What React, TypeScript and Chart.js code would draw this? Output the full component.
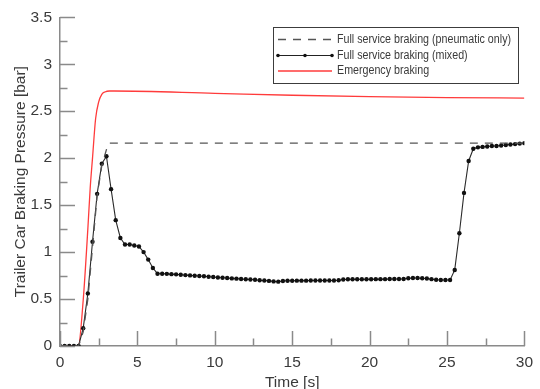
import React, { useEffect, useRef } from "react";
import { Chart, registerables } from "chart.js";

Chart.register(...registerables);

// ---- Data ----
const seriesNames = [
  "Full service braking (pneumatic only)",
  "Full service braking (mixed)",
  "Emergency braking",
];

const mixedTimes = [
  0, 0.3, 0.6, 0.9, 1.2, 1.5, 1.8, 2.1, 2.4, 2.7, 3, 3.3, 3.6, 3.9, 4.2, 4.5, 4.8, 5.1, 5.4, 5.7, 6,
  6.3, 6.6, 6.9, 7.2, 7.5, 7.8, 8.1, 8.4, 8.7, 9, 9.3, 9.6, 9.9, 10.2, 10.5, 10.8, 11.1, 11.4, 11.7, 12,
  12.3, 12.6, 12.9, 13.2, 13.5, 13.8, 14.1, 14.4, 14.7, 15, 15.3, 15.6, 15.9, 16.2, 16.5, 16.8, 17.1,
  17.4, 17.7, 18, 18.3, 18.6, 18.9, 19.2, 19.5, 19.8, 20.1, 20.4, 20.7, 21, 21.3, 21.6, 21.9, 22.2,
  22.5, 22.8, 23.1, 23.4, 23.7, 24, 24.3, 24.6, 24.9, 25.2, 25.5, 25.8, 26.1, 26.4, 26.7, 27, 27.3,
  27.6, 27.9, 28.2, 28.5, 28.8, 29.1, 29.4, 29.7, 30,
];
const mixedValues = [
  0, 0, 0, 0, 0, 0.19, 0.56, 1.11, 1.62, 1.94, 2.02, 1.67, 1.34, 1.15, 1.08, 1.08, 1.07, 1.06, 1.0, 0.92, 0.83,
  0.77, 0.77, 0.768, 0.765, 0.763, 0.758, 0.755, 0.752, 0.748, 0.745, 0.742, 0.738, 0.735, 0.73, 0.727,
  0.724, 0.72, 0.717, 0.714, 0.711, 0.708, 0.705, 0.7, 0.697, 0.693, 0.688, 0.685, 0.692, 0.695, 0.695,
  0.696, 0.696, 0.696, 0.697, 0.697, 0.697, 0.697, 0.698, 0.698, 0.7, 0.708, 0.71, 0.71, 0.71, 0.711,
  0.711, 0.711, 0.712, 0.712, 0.712, 0.713, 0.713, 0.713, 0.714, 0.722, 0.724, 0.724, 0.722, 0.718,
  0.712, 0.705, 0.703, 0.702, 0.702, 0.81, 1.2, 1.63, 1.97, 2.1, 2.115, 2.12, 2.125, 2.13, 2.13, 2.135,
  2.14, 2.145, 2.15, 2.155, 2.16,
];

const pneumaticTimes = [0, 1.2, 1.5, 1.8, 2.1, 2.4, 2.7, 3.05, 3.2, 30];
const pneumaticValues = [0, 0, 0.15, 0.5, 1.05, 1.6, 1.92, 2.12, 2.16, 2.16];

const emergencyTimes = [0, 1.18, 1.5, 1.8, 1.95, 2.1, 2.3, 2.5, 2.7, 2.9, 3.2, 3.5, 10, 15, 20, 25, 30];
const emergencyValues = [0, 0, 0.49, 1.25, 1.68, 2.0, 2.42, 2.6, 2.68, 2.705, 2.715, 2.715, 2.69, 2.67, 2.655, 2.645, 2.64];

const xMajorTicks = [0, 5, 10, 15, 20, 25, 30];
const xMinorTicks = [2.5, 7.5, 12.5, 17.5, 22.5, 27.5];
const yMajorTicks = [0, 0.5, 1, 1.5, 2, 2.5, 3, 3.5];
const yMinorTicks = [0.25, 0.75, 1.25, 1.75, 2.25, 2.75, 3.25];

const xTitle = "Time [s]";
const yTitle = "Trailer Car Braking Pressure [bar]";

const FONT = "'Liberation Sans', Arial, Helvetica, sans-serif";
const AXIS_COLOR = "#8a8a8a";
const TEXT_COLOR = "#3a3a3a";
const RED = "#ff3b3b";

const toPoints = (xs: number[], ys: number[]) => xs.map((x, i) => ({ x, y: ys[i] }));

const inwardTicks = {
  id: "inwardTicks",
  afterDatasetsDraw(chart: any) {
    const { ctx, chartArea, scales } = chart;
    const { left, bottom } = chartArea;
    const x = scales.x;
    const y = scales.y;
    ctx.save();
    ctx.strokeStyle = AXIS_COLOR;
    ctx.lineWidth = 1.5;
    ctx.beginPath();
    const xt = (v: number, len: number) => {
      const px = Math.round(x.getPixelForValue(v)) + 0.5;
      ctx.moveTo(px, bottom);
      ctx.lineTo(px, bottom - len);
    };
    const yt = (v: number, len: number) => {
      const py = Math.round(y.getPixelForValue(v)) + 0.5;
      ctx.moveTo(left, py);
      ctx.lineTo(left + len, py);
    };
    xMajorTicks.forEach((v) => xt(v, 15));
    xMinorTicks.forEach((v) => xt(v, 7.5));
    yMajorTicks.forEach((v) => yt(v, 15));
    yMinorTicks.forEach((v) => yt(v, 7.5));
    ctx.stroke();
    ctx.restore();
  },
};

const boxedLegend = {
  id: "boxedLegend",
  afterDraw(chart: any) {
    const { ctx } = chart;
    const bx = 273.5, by = 27.5, bw = 245, bh = 56;
    ctx.save();
    ctx.fillStyle = "#ffffff";
    ctx.fillRect(bx, by, bw, bh);
    ctx.strokeStyle = "#3c3c3c";
    ctx.lineWidth = 1;
    ctx.strokeRect(bx, by, bw, bh);

    const x0 = 278, x1 = 332, tx = 337;
    const rows = [39.5, 55.5, 71];

    // dashed
    ctx.beginPath();
    ctx.setLineDash([8, 7]);
    ctx.strokeStyle = "#555";
    ctx.lineWidth = 1.3;
    ctx.moveTo(x0, rows[0]);
    ctx.lineTo(x1, rows[0]);
    ctx.stroke();
    ctx.setLineDash([]);

    // mixed
    ctx.beginPath();
    ctx.strokeStyle = "#222";
    ctx.lineWidth = 1;
    ctx.moveTo(x0, rows[1]);
    ctx.lineTo(x1, rows[1]);
    ctx.stroke();
    ctx.fillStyle = "#111";
    [x0, (x0 + x1) / 2, x1].forEach((px) => {
      ctx.beginPath();
      ctx.arc(px, rows[1], 1.8, 0, Math.PI * 2);
      ctx.fill();
    });

    // emergency
    ctx.beginPath();
    ctx.strokeStyle = RED;
    ctx.lineWidth = 1.3;
    ctx.moveTo(x0, rows[2]);
    ctx.lineTo(x1, rows[2]);
    ctx.stroke();

    ctx.fillStyle = TEXT_COLOR;
    ctx.font = `12.5px ${FONT}`;
    ctx.textBaseline = "middle";
    ctx.textAlign = "left";
    seriesNames.forEach((name, i) => {
      ctx.save();
      ctx.translate(tx, rows[i]);
      ctx.scale(0.855, 1);
      ctx.fillText(name, 0, 0);
      ctx.restore();
    });
    ctx.restore();
  },
};

export default function App() {
  const canvasRef = useRef<HTMLCanvasElement | null>(null);

  useEffect(() => {
    const canvas = canvasRef.current;
    if (!canvas) return;
    const chart = new Chart(canvas, {
      type: "line",
      data: {
        datasets: [
          {
            label: seriesNames[0],
            data: toPoints(pneumaticTimes, pneumaticValues),
            borderColor: "#555",
            borderWidth: 1.3,
            borderDash: [8, 7],
            pointRadius: 0,
            tension: 0,
            fill: false,
          },
          {
            label: seriesNames[1],
            data: toPoints(mixedTimes, mixedValues),
            borderColor: "#2a2a2a",
            borderWidth: 1.1,
            pointRadius: 2.2,
            pointBackgroundColor: "#111",
            pointBorderColor: "#111",
            pointBorderWidth: 0,
            tension: 0,
            fill: false,
          },
          {
            label: seriesNames[2],
            data: toPoints(emergencyTimes, emergencyValues),
            borderColor: RED,
            borderWidth: 1.3,
            pointRadius: 0,
            cubicInterpolationMode: "monotone",
            fill: false,
          },
        ],
      },
      options: {
        responsive: false,
        animation: false,
        events: [],
        layout: { padding: { top: 17, right: 13, left: 0, bottom: 0 } },
        plugins: {
          legend: { display: false },
          tooltip: { enabled: false },
        },
        scales: {
          x: {
            type: "linear",
            min: 0,
            max: 30,
            afterFit: (s: any) => {
              s.height = 43;
            },
            ticks: {
              stepSize: 5,
              color: TEXT_COLOR,
              font: { family: FONT, size: 15.5 },
              padding: 7,
              maxRotation: 0,
              callback: (v: any) => String(v),
            },
            grid: { display: false, drawTicks: false },
            border: { display: true, color: AXIS_COLOR, width: 1.5 },
            title: {
              display: true,
              text: xTitle,
              color: TEXT_COLOR,
              font: { family: FONT, size: 15.5 },
              padding: { top: 0, bottom: -3 },
            },
          },
          y: {
            type: "linear",
            min: 0,
            max: 3.5,
            afterFit: (s: any) => {
              s.width = 60;
            },
            ticks: {
              stepSize: 0.5,
              color: TEXT_COLOR,
              font: { family: FONT, size: 15.5 },
              padding: 8,
              callback: (v: any) => String(v),
            },
            grid: { display: false, drawTicks: false },
            border: { display: true, color: AXIS_COLOR, width: 1.5 },
            title: {
              display: true,
              text: yTitle,
              color: TEXT_COLOR,
              font: { family: FONT, size: 15.5 },
              padding: { top: 11, bottom: 0 },
            },
          },
        },
      },
      plugins: [inwardTicks, boxedLegend],
    });
    return () => chart.destroy();
  }, []);

  return (
    <div style={{ position: "absolute", left: 0, top: 0, width: 540, height: 389, background: "#fff" }}>
      <canvas ref={canvasRef} width={540} height={389} style={{ display: "block" }} />
    </div>
  );
}
